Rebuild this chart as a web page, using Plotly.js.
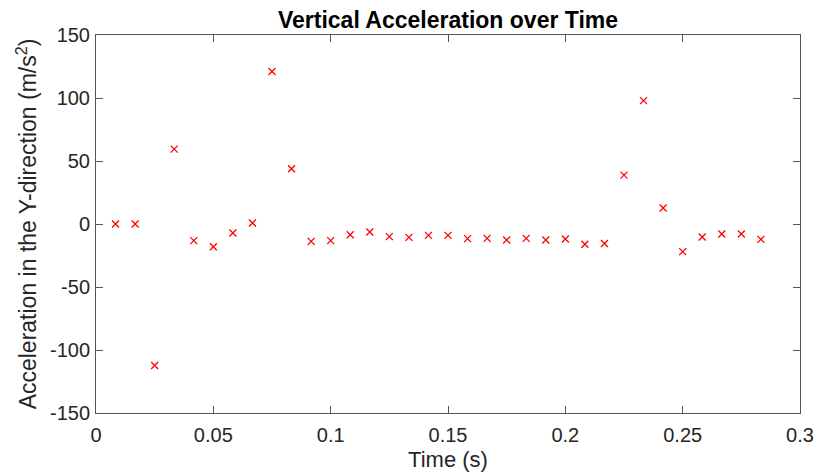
<!DOCTYPE html>
<html>
<head>
<meta charset="utf-8">
<script src="https://cdn.plot.ly/plotly-3.0.1.min.js"></script>
<style>html,body{margin:0;padding:0;background:#fff;}#chart{width:817px;height:476px;}</style>
</head>
<body>
<div id="chart"></div>
<script>
const timeS = [0.008333, 0.016667, 0.025, 0.033333, 0.041667, 0.05, 0.058333, 0.066667, 0.075, 0.083333,
  0.091667, 0.1, 0.108333, 0.116667, 0.125, 0.133333, 0.141667, 0.15, 0.158333, 0.166667,
  0.175, 0.183333, 0.191667, 0.2, 0.208333, 0.216667, 0.225, 0.233333, 0.241667, 0.25,
  0.258333, 0.266667, 0.275, 0.283333];
const accelY = [0, 0, -112.3, 59.4, -13.2, -18, -7.1, 0.8, 121, 43.8,
  -13.8, -13.2, -8.5, -6.4, -10, -10.6, -9, -9, -11.6, -11.4,
  -12.7, -11.4, -12.7, -11.9, -16.1, -15.5, 38.8, 97.9, 12.7, -21.9,
  -10.3, -7.9, -7.9, -12.2];
const xTicks = [0, 0.05, 0.1, 0.15, 0.2, 0.25, 0.3];
const xTickText = ['0', '0.05', '0.1', '0.15', '0.2', '0.25', '0.3'];
const yTicks = [-150, -100, -50, 0, 50, 100, 150];
const yTickText = ['-150', '-100', '-50', '0', '50', '100', '150'];

const font = 'Liberation Sans, Arial, Helvetica, sans-serif';
const axisCommon = {
  showgrid: false, zeroline: false, showline: true, mirror: 'ticks',
  linecolor: '#555', linewidth: 1, ticks: 'inside', ticklen: 7, tickcolor: '#555',
  tickfont: {family: font, size: 20, color: '#262626'}
};

Plotly.newPlot('chart', [{
  x: timeS, y: accelY, type: 'scatter', mode: 'markers',
  marker: {symbol: 'x-thin-open', size: 7, color: '#ff0000', line: {color: '#ff0000', width: 1.3}}
}], {
  width: 817, height: 476,
  margin: {l: 96, r: 17, t: 35, b: 63},
  paper_bgcolor: '#fff', plot_bgcolor: '#fff',
  showlegend: false,
  title: {text: '<b>Vertical Acceleration over Time</b>', font: {family: font, size: 23, color: '#000'}, x: 0.5, xanchor: 'center', xref: 'paper', y: 0.958, yanchor: 'middle'},
  xaxis: Object.assign({}, axisCommon, {range: [0, 0.3], tickvals: xTicks, ticktext: xTickText, ticklabelstandoff: 4,
    title: {text: 'Time (s)', font: {family: font, size: 22, color: '#262626'}, standoff: 6}}),
  yaxis: Object.assign({}, axisCommon, {range: [-150, 150], tickvals: yTicks, ticktext: yTickText, ticklabelstandoff: 1,
    title: {text: 'Acceleration in the Y-direction (m/s<sup>2</sup>)', font: {family: font, size: 23, color: '#262626'}, standoff: 6}})
}, {displayModeBar: false, staticPlot: true});
</script>
</body>
</html>
